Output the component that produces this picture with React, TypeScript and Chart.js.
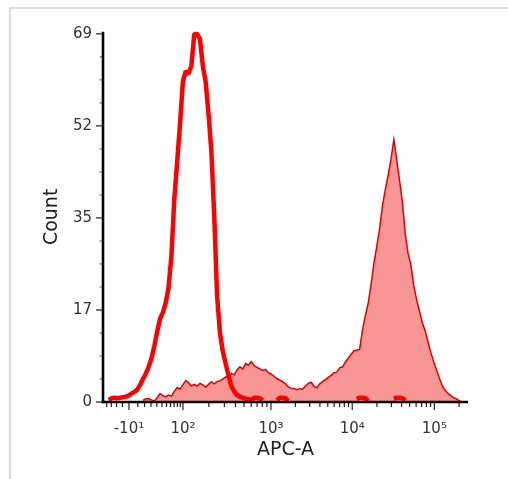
import React, { useEffect, useRef } from "react";
import { Chart, registerables } from "chart.js";

Chart.register(...registerables);

// Histogram counts per display channel (128 channels across the APC-A axis)
const unstainedCounts: (number | null)[] = [
  null, null, 0.4, 0.7, 0.8, 0.7, 0.8, 0.9, 1.0, 1.2,
  1.6, 1.9, 2.3, 3.2, 4.3, 5.3, 6.6, 8.2, 10.5, 13.2,
  15.6, 16.8, 18.6, 21.5, 27.5, 38, 45, 52, 60, 62,
  61.5, 63, 69, 69, 68, 63, 60, 54, 47, 35,
  20, 13, 9.5, 7.2, 5, 3, 2, 1.3, 1.0, 0.8,
  0.6, 0.5, 0.4, 0.8, 0.8, 0.7, 0.3, null, null, null,
  null, 0.3, 0.8, 0.8, 0.7, 0.2, null, null, null, null,
  null, null, null, null, null, null, null, null, null, null,
  null, null, null, null, null, null, null, null, null, 0.6,
  0.8, 0.8, 0.7, 0.2, null, null, null, null, null, null,
  null, null, 0.6, 0.8, 0.8, 0.7, 0.3, null, null, null,
  null, null, null, null, null, null, null, null, null, null,
  null, null, null, null, null, null, null, null,
];

const stainedCounts: (number | null)[] = [
  null, null, null, null, null, null, null, null, null, null,
  null, null, null, null, 0.3, 0.6, 0.6, 0.4, 0.2, 0.8,
  1.6, 1.2, 1.0, 1.3, 1.1, 2.0, 2.7, 2.4, 3.2, 4.0,
  3.6, 3.0, 3.3, 3.0, 3.5, 3.2, 2.8, 3.3, 3.8, 3.4,
  3.8, 4.0, 4.3, 4.7, 4.4, 5.4, 5.1, 6.0, 6.6, 6.2,
  7.2, 6.9, 7.6, 6.8, 6.5, 6.2, 5.9, 6.1, 5.5, 5.2,
  4.8, 4.4, 4.1, 3.8, 3.4, 2.8, 2.6, 2.5, 2.3, 2.5,
  2.4, 3.0, 3.5, 3.7, 2.9, 2.7, 3.4, 3.8, 4.2, 4.6,
  5.0, 5.5, 5.6, 6.4, 6.6, 7.5, 8.2, 8.9, 9.6, 9.7,
  9.9, 13.5, 16.2, 18.5, 22.0, 26.0, 29.1, 32.5, 36.8, 39.8,
  42.5, 45.5, 49.2, 45.4, 41.5, 37.5, 31.5, 27.8, 25.6, 21.8,
  19.1, 17.0, 14.8, 13.3, 11.2, 9.2, 7.5, 6.0, 4.4, 3.0,
  2.2, 1.6, 1.2, 0.8, 0.6, 0.2, 0, 0,
];

const channelCount = 128;

// Y axis ticks
const yTickValues = [0, 17.25, 34.5, 51.75, 69];
const yTickLabels = ["0", "17", "35", "52", "69"];
const yMinorPerMajor = 4;
const yAxisMax = 69.4;

// X axis (biexponential display) ticks
const xMajorValues = [-10, 100, 1000, 10000, 100000];
const xMajorLabels = ["-10¹", "10²", "10³", "10⁴", "10⁵"];
const xMinorValues = [
  -50, -40, -30, -20, 0,
  10, 20, 30, 40, 50, 60, 70, 80, 90,
  200, 300, 400, 500, 600, 700, 800, 900,
  2000, 3000, 4000, 5000, 6000, 7000, 8000, 9000,
  20000, 30000, 40000, 50000, 60000, 70000, 80000, 90000,
  200000,
];

// axis calibration: value -> display channel
const calibrationValues = [-50, -10, 0, 100, 1000, 10000, 100000];
const calibrationChannels = [1.3, 9.1, 12.2, 28.05, 58.9, 87.4, 116.2];

function toChannel(v: number): number {
  const s = (t: number) => Math.asinh(t / 40);
  const sv = s(v);
  const ss = calibrationValues.map(s);
  let j = 0;
  while (j < ss.length - 2 && sv > ss[j + 1]) j++;
  const f = (sv - ss[j]) / (ss[j + 1] - ss[j]);
  return calibrationChannels[j] + f * (calibrationChannels[j + 1] - calibrationChannels[j]);
}

const FONT = "'DejaVu Sans', Verdana, sans-serif";

const axisDecor = {
  id: "axisDecor",
  afterDatasetsDraw(chart: any) {
    const { ctx, chartArea, scales } = chart;
    const xs = scales.x;
    const ys = scales.y;
    const L = chartArea.left;
    const B = chartArea.bottom;
    ctx.save();
    // ticks
    ctx.strokeStyle = "#222";
    ctx.lineWidth = 1.2;
    // y ticks
    for (let j = 0; j < yTickValues.length; j++) {
      const py = ys.getPixelForValue(yTickValues[j]);
      ctx.beginPath();
      ctx.moveTo(L - 7, py);
      ctx.lineTo(L, py);
      ctx.stroke();
      if (j < yTickValues.length - 1) {
        const step = (yTickValues[j + 1] - yTickValues[j]) / yMinorPerMajor;
        for (let m = 1; m < yMinorPerMajor; m++) {
          const pm = ys.getPixelForValue(yTickValues[j] + m * step);
          ctx.strokeStyle = "#777";
          ctx.beginPath();
          ctx.moveTo(L - 3.5, pm);
          ctx.lineTo(L, pm);
          ctx.stroke();
          ctx.strokeStyle = "#222";
        }
      }
    }
    // x ticks
    for (const v of xMajorValues) {
      const px = xs.getPixelForValue(toChannel(v));
      ctx.beginPath();
      ctx.moveTo(px, B);
      ctx.lineTo(px, B + 8);
      ctx.stroke();
    }
    for (const v of xMinorValues) {
      const px = xs.getPixelForValue(toChannel(v));
      ctx.beginPath();
      ctx.moveTo(px, B);
      ctx.lineTo(px, B + 5);
      ctx.stroke();
    }
    // axis lines
    ctx.strokeStyle = "#000";
    ctx.lineWidth = 2.6;
    ctx.beginPath();
    ctx.moveTo(L, chartArea.top);
    ctx.lineTo(L, B + 1.3);
    ctx.stroke();
    ctx.beginPath();
    ctx.moveTo(L - 1.3, B);
    ctx.lineTo(chartArea.right, B);
    ctx.stroke();
    ctx.restore();
  },
};

export default function App() {
  const ref = useRef<HTMLCanvasElement>(null);

  useEffect(() => {
    const toPoints = (arr: (number | null)[]) =>
      arr.map((v, i) => ({ x: i, y: v }));

    const chart = new Chart(ref.current as HTMLCanvasElement, {
      type: "line",
      data: {
        datasets: [
          {
            label: "Unstained",
            data: toPoints(unstainedCounts) as any,
            borderColor: "#ff0000",
            borderWidth: 4.5,
            borderJoinStyle: "bevel",
            pointRadius: 0,
            fill: false,
            tension: 0,
            spanGaps: false,
          },
          {
            label: "APC-A stained",
            data: toPoints(stainedCounts) as any,
            borderColor: "#e00000",
            backgroundColor: "rgb(248,150,150)",
            borderWidth: 1.5,
            pointRadius: 0,
            fill: "origin",
            tension: 0,
            spanGaps: false,
          },
        ],
      },
      options: {
        animation: false,
        responsive: true,
        maintainAspectRatio: false,
        layout: { padding: { left: 0, right: 40, top: 31.7, bottom: 0 } },
        plugins: {
          legend: { display: false },
          tooltip: { enabled: false },
        },
        scales: {
          x: {
            type: "linear",
            min: 0,
            max: channelCount,
            grid: { display: false, drawTicks: false },
            border: { display: false },
            afterBuildTicks: (s: any) => {
              s.ticks = xMajorValues.map((v) => ({ value: toChannel(v) }));
            },
            afterFit: (s: any) => {
              s.height = 77;
            },
            ticks: {
              autoSkip: false,
              maxRotation: 0,
              padding: 18,
              color: "#333",
              font: { family: FONT, size: 15 },
              callback: (_v: any, i: number) => xMajorLabels[i] ?? "",
            },
            title: {
              display: true,
              text: "APC-A",
              color: "#222",
              font: { family: FONT, size: 19 },
              padding: { top: 0, bottom: 18 },
            },
          },
          y: {
            type: "linear",
            min: 0,
            max: yAxisMax,
            grid: { display: false, drawTicks: false },
            border: { display: false },
            afterBuildTicks: (s: any) => {
              s.ticks = yTickValues.map((v) => ({ value: v }));
            },
            afterFit: (s: any) => {
              s.width = 103;
            },
            ticks: {
              padding: 11,
              color: "#333",
              font: { family: FONT, size: 15 },
              callback: (_v: any, i: number) => yTickLabels[i] ?? "",
            },
            title: {
              display: true,
              text: "Count",
              color: "#222",
              font: { family: FONT, size: 19 },
              padding: { top: 40.6, bottom: 0 },
            },
          },
        },
      },
      plugins: [axisDecor],
    });
    return () => chart.destroy();
  }, []);

  return (
    <div>
      <div
        style={{
          position: "absolute",
          left: 9,
          top: 7,
          width: 499,
          height: 472,
          boxSizing: "border-box",
          borderTop: "2px solid #dcdcdc",
          borderLeft: "2px solid #dcdcdc",
        }}
      />
      <div style={{ position: "absolute", left: 0, top: 0, width: 508, height: 479 }}>
        <canvas ref={ref} />
      </div>
    </div>
  );
}
